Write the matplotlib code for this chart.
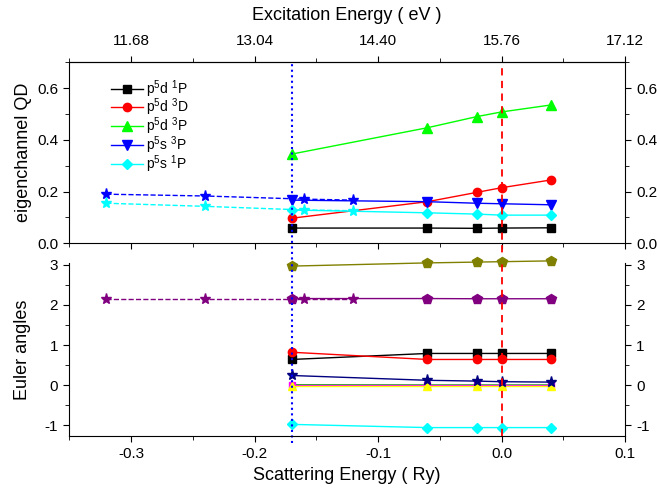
import matplotlib
matplotlib.use("Agg")
import matplotlib.pyplot as plt
from matplotlib.ticker import MultipleLocator, FixedLocator, FormatStrFormatter

plt.rcParams['font.family'] = ['Liberation Sans', 'DejaVu Sans']
plt.rcParams['mathtext.fontset'] = 'custom'
plt.rcParams['mathtext.rm'] = 'Liberation Sans'
plt.rcParams['axes.unicode_minus'] = False

# ---- data: quantum defects (top panel) ----
x_main = [-0.17, -0.06, -0.02, 0.0, 0.04]
qd_d1P = [0.059, 0.059, 0.058, 0.059, 0.060]
qd_d3D = [0.097, 0.161, 0.197, 0.215, 0.245]
qd_d3P = [0.345, 0.447, 0.490, 0.508, 0.535]
qd_s3P = [0.167, 0.161, 0.155, 0.153, 0.149]
qd_s1P = [0.129, 0.118, 0.113, 0.109, 0.109]

x_star = [-0.32, -0.24, -0.16, -0.12]
qd_s3P_star = [0.190, 0.183, 0.171, 0.167]
qd_s1P_star = [0.155, 0.143, 0.129, 0.126]

# ---- data: Euler angles (bottom panel) ----
eu_olive  = [2.97, 3.05, 3.07, 3.08, 3.10]
eu_purple = [2.16, 2.16, 2.155, 2.155, 2.155]
eu_black  = [0.64, 0.79, 0.79, 0.79, 0.79]
eu_red    = [0.82, 0.64, 0.64, 0.64, 0.64]
eu_navy   = [0.24, 0.12, 0.10, 0.085, 0.075]
eu_green  = [0.01, 0.005, 0.005, 0.005, 0.005]
eu_magenta = [0.0, 0.0, 0.0, 0.0, 0.0]
eu_yellow = [-0.01, -0.01, -0.01, -0.01, -0.01]
eu_cyan   = [-0.98, -1.06, -1.06, -1.06, -1.06]
eu_purple_star = [2.16, 2.16, 2.16, 2.16]

top_ticks_ev = [11.68, 13.04, 14.40, 15.76, 17.12]
top_minor_ev = [11.0, 12.36, 13.72, 15.08, 16.44]
threshold_x = -0.17

fig = plt.figure(figsize=(6.6, 4.98), dpi=100)
ax1 = fig.add_axes([0.105, 0.5114, 0.842, 0.3635])
ax2 = fig.add_axes([0.105, 0.1245, 0.842, 0.3468])

ms = 6
ax1.plot(x_main, qd_d1P, '-s', color='black', lw=1, ms=ms, label=r'p$^5$d $^1$P')
ax1.plot(x_main, qd_d3D, '-o', color='red', lw=1, ms=ms, label=r'p$^5$d $^3$D')
ax1.plot(x_main, qd_d3P, '-^', color='#00ff00', lw=1, ms=ms + 1, label=r'p$^5$d $^3$P')
ax1.plot(x_main, qd_s3P, '-v', color='blue', lw=1, ms=ms + 1, label=r'p$^5$s $^3$P')
ax1.plot(x_main, qd_s1P, '-D', color='cyan', lw=1, ms=ms - 0.5, label=r'p$^5$s $^1$P')
ax1.plot(x_star, qd_s3P_star, '--*', color='blue', lw=1, ms=ms + 2)
ax1.plot(x_star, qd_s1P_star, '--*', color='cyan', lw=1, ms=ms + 2)

ax1.legend(loc='upper left', bbox_to_anchor=(0.055, 0.975), frameon=False, fontsize=10,
           handlelength=2.3, handletextpad=0.25, labelspacing=-0.2, borderpad=0.3)

ax2.plot(x_main, eu_olive, '-p', color='#808000', lw=1, ms=ms + 1, clip_on=False)
ax2.plot(x_main, eu_purple, '-p', color='#800080', lw=1, ms=ms + 1)
ax2.plot(x_star, eu_purple_star, '--*', color='#800080', lw=1, ms=ms + 2)
ax2.plot(x_main, eu_black, '-s', color='black', lw=1, ms=ms)
ax2.plot(x_main, eu_red, '-o', color='red', lw=1, ms=ms)
ax2.plot(x_main, eu_green, '-^', color='#00cc00', lw=1, ms=ms - 1)
ax2.plot(x_main, eu_magenta, '-s', color='magenta', lw=1, ms=ms - 2)
ax2.plot(x_main, eu_yellow, '-^', color='yellow', lw=1, ms=ms)
ax2.plot(x_main, eu_navy, '-*', color='#000080', lw=1, ms=ms + 2)
ax2.plot(x_main, eu_cyan, '-D', color='cyan', lw=1, ms=ms - 0.5)

ax1.set_xlim(-0.35, 0.1)
ax2.set_xlim(-0.35, 0.1)
ax1.set_ylim(0, 0.7)
ax2.set_ylim(-1.27, 3.04)

# threshold lines
ax1.axvline(threshold_x, ymin=-0.12, ymax=1, color='blue', ls=':', lw=1.5, clip_on=False)
ax1.axvline(0.0, ymin=-0.12, ymax=1, color='red', ls='--', lw=1.3, clip_on=False, dashes=(4, 3))
ax2.axvline(threshold_x, ymin=-0.04, ymax=1, color='blue', ls=':', lw=1.5, clip_on=False)
ax2.axvline(0.0, ymin=0, ymax=1, color='red', ls='--', lw=1.3, dashes=(4, 3))

for ax in (ax1, ax2):
    ax.xaxis.set_major_locator(MultipleLocator(0.1))
    ax.xaxis.set_minor_locator(MultipleLocator(0.05))
    ax.tick_params(which='both', direction='out', labelsize=11, right=True, labelright=True)
    ax.tick_params(which='major', length=4.5)
    ax.tick_params(which='minor', length=3)
ax1.yaxis.set_major_locator(MultipleLocator(0.2))
ax1.yaxis.set_minor_locator(MultipleLocator(0.1))
ax1.yaxis.set_major_formatter(FormatStrFormatter('%.1f'))
ax1.tick_params(axis='x', labelbottom=False)
ax2.yaxis.set_major_locator(MultipleLocator(1))
ax2.yaxis.set_minor_locator(MultipleLocator(0.5))
ax2.spines['top'].set_visible(False)
ax2.xaxis.set_major_formatter(FormatStrFormatter('%.1f'))

secax = ax1.secondary_xaxis('top', functions=(lambda x: 15.76 + 13.6 * x,
                                              lambda e: (e - 15.76) / 13.6))
secax.xaxis.set_major_locator(FixedLocator(top_ticks_ev))
secax.xaxis.set_minor_locator(FixedLocator(top_minor_ev))
secax.xaxis.set_major_formatter(FormatStrFormatter('%.2f'))
secax.tick_params(which='both', direction='out', labelsize=11)
secax.tick_params(which='major', length=4.5, pad=6)
secax.tick_params(which='minor', length=3)
secax.set_xlabel('Excitation Energy ( eV )', fontsize=13, labelpad=10)

ax1.set_ylabel('eigenchannel QD', fontsize=13, labelpad=4)
ax2.set_ylabel('Euler angles', fontsize=13, labelpad=10)
ax2.set_xlabel('Scattering Energy ( Ry)', fontsize=13, labelpad=4)

fig.savefig('out.png', dpi=100)
